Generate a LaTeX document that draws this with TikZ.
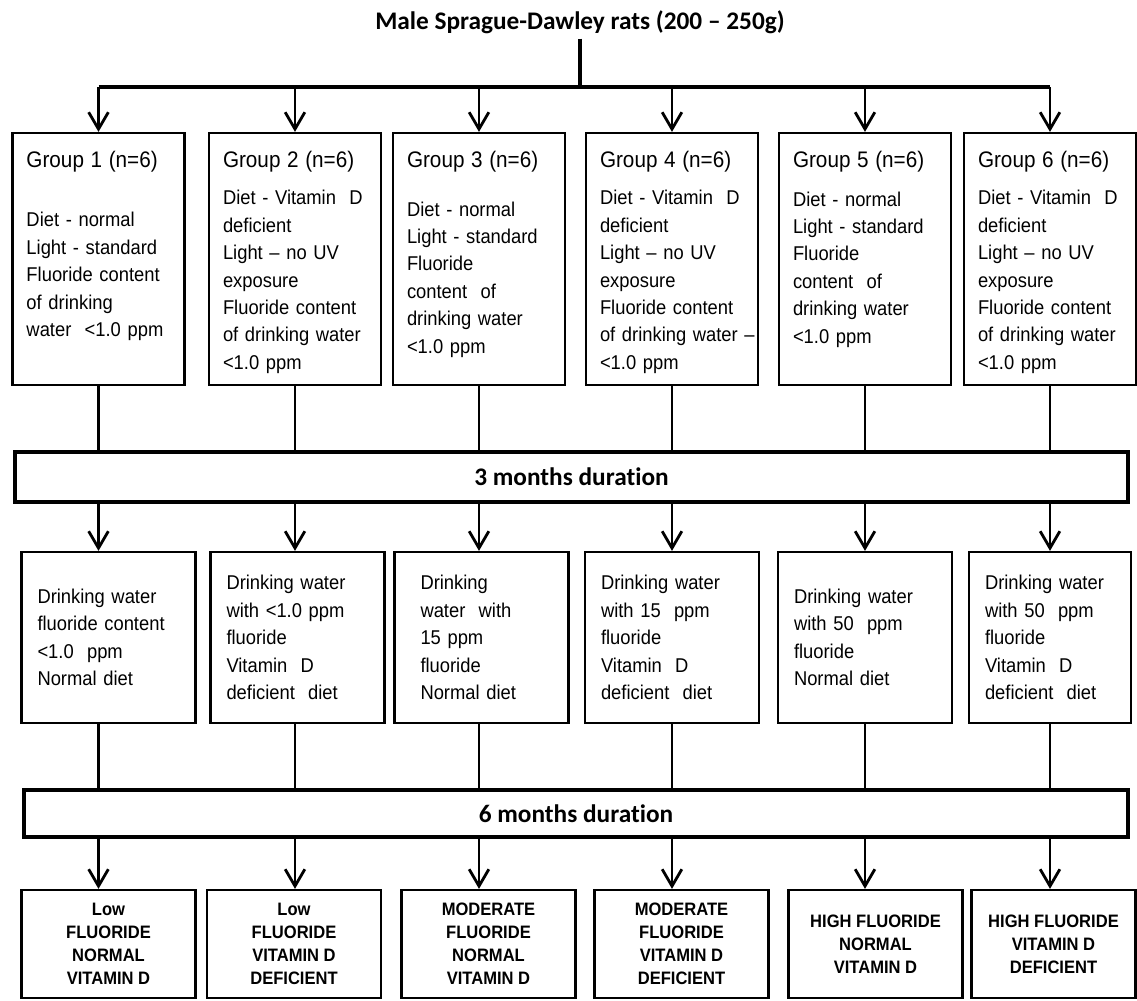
\documentclass[tikz,border=0pt]{standalone}
\usepackage{fontspec}
\setmainfont{Liberation Sans}[FakeStretch=0.92]
\newfontfamily\headfont{Carlito}[Ligatures=NoCommon]
\usetikzlibrary{arrows.meta, positioning, calc}

\tikzset{
  >={Straight Barb[length=12pt,width=14pt]},
  conn/.style={line width=2pt},
  trunk/.style={line width=3pt},
  grp/.style={draw, line width=1.6pt, text width=3.6cm, align=left, inner xsep=0.35cm, inner ysep=0pt,
    text height=0.85cm, text depth=5.45cm, font=\fontsize{14.2}{19.5}\selectfont},
  mid/.style={draw, line width=1.6pt, minimum width=4.35cm, minimum height=4.275cm, text width=3.55cm,
    align=left, inner xsep=0.4cm, font=\fontsize{14.2}{19.5}\selectfont},
  res/.style={draw, line width=1.6pt, minimum width=4.35cm, minimum height=2.7cm, align=center,
    font=\bfseries\fontsize{12.8}{16.4}\selectfont},
  dur/.style={draw, line width=3.2pt, font=\headfont\bfseries\fontsize{18}{22}\selectfont},
}
\newcommand{\grphead}[1]{{\fontsize{16}{19.5}\selectfont #1}}

\begin{document}
\begin{tikzpicture}
    \useasboundingbox (0,0) rectangle (28.425,-25.025);

    \node[font=\headfont\bfseries\fontsize{18}{22}\selectfont] (rats) at (14.5,-0.55) {Male Sprague-Dawley rats (200 – 250g)};
    \coordinate (split) at (rats.south |- 0,-2.175);

    \node[grp] (g1) at (2.4625,-6.475) {\grphead{Group 1 (n=6)}\\[0.81cm]
        Diet - normal\\ Light - standard\\ Fluoride content\\ of drinking\\ water\ \ <1.0 ppm};
    \node[grp] (g2) at (7.375,-6.475) {\grphead{Group 2 (n=6)}\\[0.26cm]
        \mbox{Diet - Vitamin\ \ D}\\ deficient\\ Light – no UV\\ exposure\\ Fluoride content\\ \mbox{of drinking water}\\ <1.0 ppm};
    \node[grp] (g3) at (11.975,-6.475) {\grphead{Group 3 (n=6)}\\[0.54cm]
        Diet - normal\\ Light - standard\\ Fluoride\\ content\ \ of\\ drinking water\\ <1.0 ppm};
    \node[grp] (g4) at (16.8,-6.475) {\grphead{Group 4 (n=6)}\\[0.26cm]
        \mbox{Diet - Vitamin\ \ D}\\ deficient\\ Light – no UV\\ exposure\\ Fluoride content\\ \mbox{of drinking water\ –}\\ <1.0 ppm};
    \node[grp] (g5) at (21.625,-6.475) {\grphead{Group 5 (n=6)}\\[0.29cm]
        Diet - normal\\ Light - standard\\ Fluoride\\ content\ \ of\\ drinking water\\ <1.0 ppm};
    \node[grp] (g6) at (26.25,-6.475) {\grphead{Group 6 (n=6)}\\[0.26cm]
        \mbox{Diet - Vitamin\ \ D}\\ deficient\\ Light – no UV\\ exposure\\ Fluoride content\\ \mbox{of drinking water}\\ <1.0 ppm};

    \node[dur, minimum width=27.825cm, minimum height=1.25cm] (d3) at (14.2875,-11.925) {3 months duration};

    \node[mid] (m1) at (2.7125,-15.9375) {Drinking water\\ fluoride content\\ <1.0\ \ ppm\\ Normal diet};
    \node[mid] (m2) at (7.4375,-15.9375) {Drinking water\\ with <1.0 ppm\\ fluoride\\ Vitamin\ \ D\\ deficient\ \ diet};
    \node[mid] (m3) at (12.0375,-15.9375) {\hspace*{0.25cm}Drinking\\ \hspace*{0.25cm}water\ \ with\\ \hspace*{0.25cm}15 ppm\\ \hspace*{0.25cm}fluoride\\ \hspace*{0.25cm}Normal diet};
    \node[mid] (m4) at (16.8,-15.9375) {Drinking water\\ with 15\ \ ppm\\ fluoride\\ Vitamin\ \ D\\ deficient\ \ diet};
    \node[mid] (m5) at (21.625,-15.9375) {Drinking water\\ with 50\ \ ppm\\ fluoride\\ Normal diet};
    \node[mid, text width=3.25cm, minimum width=4.05cm] (m6) at (26.25,-15.9375) {Drinking water\\ with 50\ \ ppm\\ fluoride\\ Vitamin\ \ D\\ deficient\ \ diet};

    \node[dur, minimum width=27.6cm, minimum height=1.175cm] (d6) at (14.4,-20.3375) {6 months duration};

    \node[res] (r1) at (2.7125,-23.6) {Low\\ FLUORIDE\\ NORMAL\\ VITAMIN D};
    \node[res] (r2) at (7.35,-23.6) {Low\\ FLUORIDE\\ VITAMIN D\\ DEFICIENT};
    \node[res] (r3) at (12.2125,-23.6) {MODERATE\\ FLUORIDE\\ NORMAL\\ VITAMIN D};
    \node[res] (r4) at (17.0375,-23.6) {MODERATE\\ FLUORIDE\\ VITAMIN D\\ DEFICIENT};
    \node[res] (r5) at (21.8875,-23.6) {HIGH FLUORIDE\\ NORMAL\\ VITAMIN D};
    \node[res, minimum width=4.1cm] (r6) at (26.3375,-23.6) {HIGH FLUORIDE\\ VITAMIN D\\ DEFICIENT};

    \draw[trunk] (rats.south) -- (split);
    \draw[trunk] (g1.north |- split) -- (g6.north |- split);
    \draw[conn,->] (g1.north |- split) -- (g1.north);
    \draw[conn,->] (g2.north |- split) -- (g2.north);
    \draw[conn,->] (g3.north |- split) -- (g3.north);
    \draw[conn,->] (g4.north |- split) -- (g4.north);
    \draw[conn,->] (g5.north |- split) -- (g5.north);
    \draw[conn,->] (g6.north |- split) -- (g6.north);

    \draw[conn] (g1.south) -- (g1.south |- d3.north) (g2.south) -- (g2.south |- d3.north)
        (g3.south) -- (g3.south |- d3.north) (g4.south) -- (g4.south |- d3.north)
        (g5.south) -- (g5.south |- d3.north) (g6.south) -- (g6.south |- d3.north);
    \draw[conn,->] (g1.south |- d3.south) -- (g1.south |- m1.north);
    \draw[conn,->] (g2.south |- d3.south) -- (g2.south |- m2.north);
    \draw[conn,->] (g3.south |- d3.south) -- (g3.south |- m3.north);
    \draw[conn,->] (g4.south |- d3.south) -- (g4.south |- m4.north);
    \draw[conn,->] (g5.south |- d3.south) -- (g5.south |- m5.north);
    \draw[conn,->] (g6.south |- d3.south) -- (g6.south |- m6.north);

    \draw[conn] (g1.south |- m1.south) -- (g1.south |- d6.north) (g2.south |- m2.south) -- (g2.south |- d6.north)
        (g3.south |- m3.south) -- (g3.south |- d6.north) (g4.south |- m4.south) -- (g4.south |- d6.north)
        (g5.south |- m5.south) -- (g5.south |- d6.north) (g6.south |- m6.south) -- (g6.south |- d6.north);
    \draw[conn,->] (g1.south |- d6.south) -- (g1.south |- r1.north);
    \draw[conn,->] (g2.south |- d6.south) -- (g2.south |- r2.north);
    \draw[conn,->] (g3.south |- d6.south) -- (g3.south |- r3.north);
    \draw[conn,->] (g4.south |- d6.south) -- (g4.south |- r4.north);
    \draw[conn,->] (g5.south |- d6.south) -- (g5.south |- r5.north);
    \draw[conn,->] (g6.south |- d6.south) -- (g6.south |- r6.north);
\end{tikzpicture}
\end{document}
